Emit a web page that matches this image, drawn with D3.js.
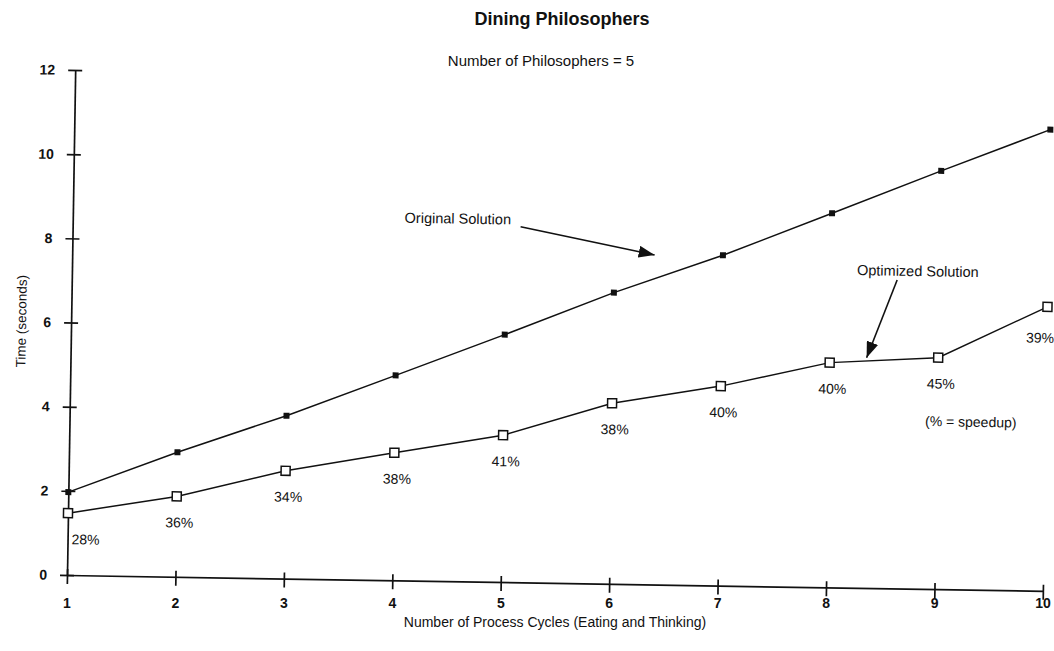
<!DOCTYPE html>
<html>
<head>
<meta charset="utf-8">
<script src="https://cdn.jsdelivr.net/npm/d3@7/dist/d3.min.js"></script>
<style>
  body { margin: 0; background: #fff; }
  text { font-family: "Liberation Sans", Arial, Helvetica, sans-serif; fill: #111; }
</style>
</head>
<body>
<svg id="chart"></svg>
<script>
// Dining Philosophers - time vs process cycles

const cycles = [1, 2, 3, 4, 5, 6, 7, 8, 9, 10];
const originalTimes = [1.97, 2.96, 3.87, 4.87, 5.88, 6.92, 7.85, 8.89, 9.94, 10.96];
const optimizedTimes = [1.47, 1.91, 2.56, 3.03, 3.49, 4.29, 4.74, 5.34, 5.50, 6.75];
const speedupLabels = ["28%", "36%", "34%", "38%", "41%", "38%", "40%", "40%", "45%", "39%"];
const yTicks = [0, 2, 4, 6, 8, 10, 12];

const W = 1054, H = 651;
const svg = d3.select("#chart").attr("width", W).attr("height", H);

// the scanned page is tilted a bit, so the plot is drawn in a rotated group
const plot = svg.append("g").attr("transform", "rotate(0.93, 67, 575)");

const x = d3.scaleLinear().domain([1, 10]).range([67, 1043]);
const y = d3.scaleLinear().domain([0, 12]).range([575, 70]);

//titles
svg.append("text")
    .attr("x", 562).attr("y", 25)
    .attr("text-anchor", "middle")
    .attr("font-size", "18px")
    .attr("font-weight", "bold")
    .text("Dining Philosophers");
svg.append("text")
    .attr("x", 541).attr("y", 66)
    .attr("text-anchor", "middle")
    .attr("font-size", "15px")
    .text("Number of Philosophers = 5");

//axes (x tick labels are drawn level below, like in the scan)
let xAxis = d3.axisBottom(x).tickValues(cycles).tickSize(9).tickSizeOuter(0).tickFormat("");
let yAxis = d3.axisLeft(y).tickValues(yTicks).tickSize(7).tickSizeOuter(0).tickPadding(13);

let gx = plot.append("g")
    .attr("transform", "translate(0," + y(0) + ")")
    .call(xAxis);
gx.selectAll(".tick line").attr("y1", -6);
let gy = plot.append("g")
    .attr("transform", "translate(" + x(1) + ",0)")
    .call(yAxis);
gy.selectAll(".tick line").attr("x1", 7);

plot.selectAll(".domain, .tick line")
    .attr("stroke", "#111")
    .attr("stroke-width", 1.7);
plot.selectAll(".tick text")
    .attr("font-family", "Liberation Sans, Arial, sans-serif")
    .attr("font-size", "14px")
    .attr("font-weight", "bold")
    .attr("fill", "#111");

svg.selectAll(".xlab")
    .data(cycles)
    .enter()
    .append("text")
    .attr("class", "xlab")
    .attr("x", d => x(d))
    .attr("y", 608)
    .attr("text-anchor", "middle")
    .attr("font-size", "14px")
    .attr("font-weight", "bold")
    .text(d => d);

//axis titles
svg.append("text")
    .attr("x", 555).attr("y", 627)
    .attr("text-anchor", "middle")
    .attr("font-size", "14px")
    .text("Number of Process Cycles (Eating and Thinking)");
plot.append("text")
    .attr("transform", "translate(22, 322) rotate(-90)")
    .attr("text-anchor", "middle")
    .attr("font-size", "13.5px")
    .text("Time (seconds)");

//lines
let lineFun = vals => d3.line()
    .x((d, i) => x(cycles[i]))
    .y(d => y(d))(vals);

plot.append("path")
    .attr("d", lineFun(originalTimes))
    .attr("fill", "none")
    .attr("stroke", "#111")
    .attr("stroke-width", 1.5);
plot.append("path")
    .attr("d", lineFun(optimizedTimes))
    .attr("fill", "none")
    .attr("stroke", "#111")
    .attr("stroke-width", 1.5);

//markers: filled squares for original, open for optimized
plot.selectAll(".orig")
    .data(originalTimes)
    .enter()
    .append("rect")
    .attr("class", "orig")
    .attr("x", (d, i) => x(cycles[i]) - 3)
    .attr("y", d => y(d) - 3)
    .attr("width", 6)
    .attr("height", 6)
    .attr("fill", "#111");
plot.selectAll(".opt")
    .data(optimizedTimes)
    .enter()
    .append("rect")
    .attr("class", "opt")
    .attr("x", (d, i) => x(cycles[i]) - 4.5)
    .attr("y", d => y(d) - 4.5)
    .attr("width", 9)
    .attr("height", 9)
    .attr("fill", "#fff")
    .attr("stroke", "#111")
    .attr("stroke-width", 1.5);

//speedup labels under the optimized points
plot.selectAll(".pct")
    .data(optimizedTimes)
    .enter()
    .append("text")
    .attr("class", "pct")
    .attr("x", (d, i) => {
        if (i === 0) return x(cycles[i]) + 18;
        if (i === optimizedTimes.length - 1) return x(cycles[i]) - 7;
        return x(cycles[i]) + 3;
    })
    .attr("y", (d, i) => y(d) + (i === optimizedTimes.length - 1 ? 36 : 31))
    .attr("text-anchor", "middle")
    .attr("font-size", "14px")
    .text((d, i) => speedupLabels[i]);

//annotations with arrows
let defs = svg.append("defs");
defs.append("marker")
    .attr("id", "head")
    .attr("viewBox", "0 -6 16 12")
    .attr("refX", 16)
    .attr("refY", 0)
    .attr("markerWidth", 16)
    .attr("markerHeight", 12)
    .attr("markerUnits", "userSpaceOnUse")
    .attr("orient", "auto")
    .append("path")
    .attr("d", "M0,-6L16,0L0,6Z")
    .attr("fill", "#111");

plot.append("text")
    .attr("x", x(4.06)).attr("y", y(8.5))
    .attr("font-size", "14.5px")
    .text("Original Solution");
plot.append("line")
    .attr("x1", x(5.13)).attr("y1", y(8.45))
    .attr("x2", x(6.37)).attr("y2", y(7.83))
    .attr("stroke", "#111")
    .attr("stroke-width", 1.6)
    .attr("marker-end", "url(#head)");

plot.append("text")
    .attr("x", x(8.8)).attr("y", y(7.43))
    .attr("text-anchor", "middle")
    .attr("font-size", "14.5px")
    .text("Optimized Solution");
plot.append("line")
    .attr("x1", x(8.61)).attr("y1", y(7.33))
    .attr("x2", x(8.34)).attr("y2", y(5.47))
    .attr("stroke", "#111")
    .attr("stroke-width", 1.6)
    .attr("marker-end", "url(#head)");

plot.append("text")
    .attr("x", x(9.31)).attr("y", y(3.87))
    .attr("text-anchor", "middle")
    .attr("font-size", "14px")
    .text("(% = speedup)");
</script>
</body>
</html>
